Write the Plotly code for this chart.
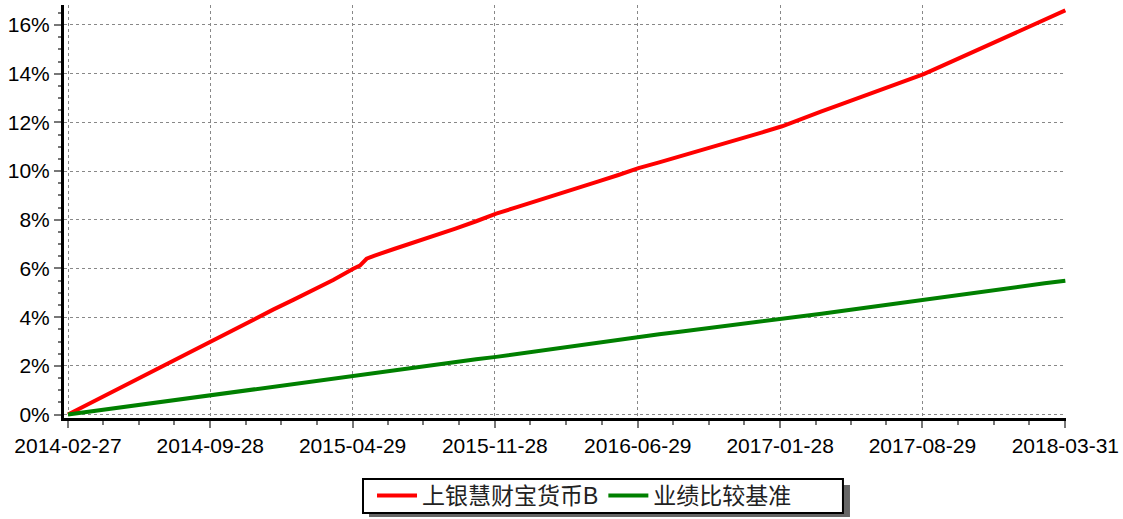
import plotly.graph_objects as go
import pandas as pd

dates = ["2014-02-27"] + [d.strftime("%Y-%m-%d") for d in pd.date_range("2014-03-31", "2018-03-31", freq="ME")]

# fund series has two extra readings around the May-2015 kink
fund_dates = dates[:15] + ["2015-05-10", "2015-05-20"] + dates[15:]
fund_b = [0.00, 0.45, 0.88, 1.32, 1.75, 2.18, 2.61, 3.04, 3.47, 3.89,
          4.31, 4.72, 5.10, 5.53, 5.99, 6.12, 6.40, 6.52, 6.80, 7.07, 7.35, 7.64,
          7.94, 8.25, 8.52, 8.78, 9.02, 9.30, 9.57, 9.84, 10.12, 10.36,
          10.60, 10.84, 11.10, 11.34, 11.58, 11.84, 12.14, 12.45, 12.75, 13.06,
          13.37, 13.67, 13.98, 14.35, 14.73, 15.10, 15.49, 15.87, 16.22, 16.60]

benchmark = [0.00, 0.12, 0.23, 0.35, 0.46, 0.58, 0.70, 0.82, 0.93, 1.04,
             1.16, 1.27, 1.38, 1.50, 1.61, 1.72, 1.83, 1.94, 2.05, 2.16,
             2.27, 2.37, 2.49, 2.61, 2.73, 2.85, 2.97, 3.09, 3.20, 3.30,
             3.40, 3.50, 3.60, 3.70, 3.80, 3.91, 4.02, 4.14, 4.25, 4.37,
             4.48, 4.60, 4.71, 4.83, 4.94, 5.05, 5.17, 5.28, 5.39, 5.50]

tick_dates = ["2014-02-27", "2014-09-28", "2015-04-29", "2015-11-28",
              "2016-06-29", "2017-01-28", "2017-08-29", "2018-03-31"]

names = ["上银慧财宝货币B", "业绩比较基准"]
colors = ["#FF0000", "#008000"]

# minor x ticks: quarter points between majors
td = pd.to_datetime(tick_dates)
minor_x = []
for a, b in zip(td[:-1], td[1:]):
    for q in (1, 2, 3):
        minor_x.append((a + (b - a) * q / 4).strftime("%Y-%m-%d"))

fig = go.Figure()
for name, xs, vals, col in zip(names, [fund_dates, dates], [fund_b, benchmark], colors):
    fig.add_trace(go.Scatter(
        x=xs, y=[v / 100 for v in vals], mode="lines", name=name,
        line=dict(color=col, width=4)))

font_fam = "Arial, Liberation Sans, Noto Sans CJK SC, sans-serif"

# legend frame with drop shadow (paper coordinates)
fig.add_shape(type="rect", xref="paper", yref="paper",
              x0=0.3044, x1=0.7844, y0=-0.2397, y1=-0.1622,
              fillcolor="#666666", line=dict(width=0), layer="above")
fig.add_shape(type="rect", xref="paper", yref="paper",
              x0=0.2984, x1=0.7774, y0=-0.2300, y1=-0.1477,
              fillcolor="white", line=dict(color="black", width=2), layer="above")

fig.update_layout(
    width=1123, height=519,
    margin=dict(l=64, r=57, t=5, b=101, autoexpand=False),
    paper_bgcolor="white", plot_bgcolor="white",
    font=dict(family=font_fam, size=21, color="black"),
    showlegend=True,
    legend=dict(orientation="h", x=0.3074, xanchor="left", y=-0.1877, yanchor="middle",
                bgcolor="rgba(0,0,0,0)", borderwidth=0,
                font=dict(size=23, family=font_fam, color="#222222"), itemwidth=40,
                tracegroupgap=0),
    xaxis=dict(
        type="date", range=["2014-02-21", "2018-04-01"], automargin=False,
        tickmode="array", tickvals=tick_dates, ticktext=tick_dates,
        showgrid=True, gridcolor="#888888", griddash="dot", gridwidth=1,
        showline=True, linecolor="black", linewidth=3,
        ticks="outside", ticklen=7, tickcolor="#777777", tickwidth=2,
        tickfont=dict(size=21),
        minor=dict(tickvals=minor_x, ticks="outside", ticklen=4,
                   tickcolor="#777777", tickwidth=2, showgrid=False),
        zeroline=False,
    ),
    yaxis=dict(
        range=[-0.0014, 0.1682], automargin=False,
        tickmode="linear", tick0=0, dtick=0.02, tickformat=".0%",
        showgrid=True, gridcolor="#888888", griddash="dot", gridwidth=1,
        showline=True, linecolor="black", linewidth=3,
        ticks="outside", ticklen=7, tickcolor="#777777", tickwidth=2,
        tickfont=dict(size=21),
        minor=dict(dtick=0.005, tick0=0, ticks="outside", ticklen=3,
                   tickcolor="#777777", tickwidth=2, showgrid=False),
        zeroline=False,
    ),
)

fig.write_html("out.html", config={"displayModeBar": False},
               post_script="document.body.style.margin='0px';document.body.style.overflow='hidden';")
